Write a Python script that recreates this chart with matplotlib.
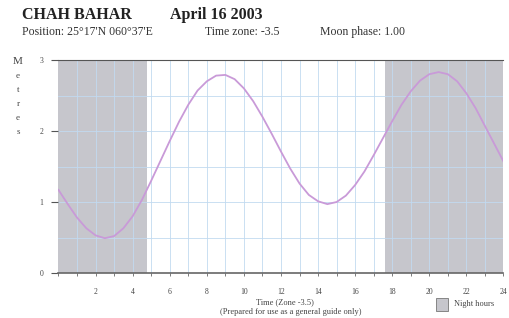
import numpy as np
import matplotlib.pyplot as plt

# Tide data (half-hourly)
hours = [i * 0.5 for i in range(49)]
height = [1.17, 0.97, 0.78, 0.63, 0.53, 0.49, 0.52, 0.63, 0.80, 1.03,
          1.30, 1.58, 1.86, 2.13, 2.37, 2.57, 2.70, 2.78, 2.79, 2.73,
          2.60, 2.42, 2.20, 1.96, 1.71, 1.47, 1.26, 1.10, 1.01, 0.97,
          1.00, 1.09, 1.24, 1.43, 1.66, 1.90, 2.14, 2.37, 2.56, 2.71,
          2.80, 2.83, 2.80, 2.70, 2.53, 2.32, 2.07, 1.82, 1.57]
night = [(0, 4.8), (17.6, 24)]
xtick_labels = ['2', '4', '6', '8', '10', '12', '14', '16', '18', '20', '22', '24']
ytick_labels = ['0', '1', '2', '3']

plt.rcParams['font.family'] = ['Liberation Serif', 'DejaVu Serif']

fig = plt.figure(figsize=(5.10, 3.18), dpi=100)
ax = fig.add_axes([58.5 / 510, 45 / 318, 445 / 510, 213 / 318])

# Night shading
for a, b in night:
    ax.axvspan(a, b, color='#c6c6cc', zorder=0, lw=0)

# Grid
for h in range(1, 24):
    ax.axvline(h, color='#c2daf0', lw=0.6, zorder=1)
for v in np.arange(0.5, 3.0, 0.5):
    ax.axhline(v, color='#c2daf0', lw=0.6, zorder=1)

# Tide curve
ax.plot(hours, height, color='#c99ad8', lw=1.3, zorder=3)

ax.set_xlim(0, 24)
ax.set_ylim(0, 3)
ax.set_xticks(range(2, 25, 2))
ax.set_xticklabels(xtick_labels)
ax.set_xticks(range(0, 25), minor=True)
ax.set_yticks(range(4))
ax.set_yticklabels(ytick_labels)
ax.tick_params(axis='x', which='both', direction='out', length=2.5, width=0.6,
               color='#666666', labelsize=5.5, pad=8, labelcolor='#444444')
ax.tick_params(axis='y', direction='out', length=5, width=0.8,
               color='#555555', labelsize=5.5, pad=6, labelcolor='#444444')

for s in ['left', 'right']:
    ax.spines[s].set_visible(False)
ax.spines['top'].set_color('#555555')
ax.spines['top'].set_linewidth(0.8)
ax.spines['bottom'].set_color('#666666')
ax.spines['bottom'].set_linewidth(1.2)

# Titles
fig.text(22 / 510, 1 - 15 / 318, 'CHAH BAHAR', fontsize=11.5, fontweight='bold',
         va='center', ha='left', color='#222222')
fig.text(170 / 510, 1 - 15 / 318, 'April 16 2003', fontsize=11.5, fontweight='bold',
         va='center', ha='left', color='#222222')
fig.text(22 / 510, 1 - 32 / 318, "Position: 25\u00b017'N 060\u00b037'E", fontsize=8.5,
         va='center', ha='left', color='#333333')
fig.text(205 / 510, 1 - 32 / 318, 'Time zone: -3.5', fontsize=8.5,
         va='center', ha='left', color='#333333')
fig.text(320 / 510, 1 - 32 / 318, 'Moon phase: 1.00', fontsize=8.5,
         va='center', ha='left', color='#333333')

# Vertical stacked y label
for i, ch in enumerate('Metres'):
    fig.text(18 / 510, 1 - (62 + i * 14) / 318, ch,
             fontsize=8 if i == 0 else 6.5, ha='center', va='center', color='#444444')

# Bottom labels
fig.text(285 / 510, 1 - 302 / 318, 'Time (Zone -3.5)', fontsize=6,
         ha='center', va='center', color='#444444')
fig.text(291 / 510, 1 - 312 / 318, '(Prepared for use as a general guide only)', fontsize=6,
         ha='center', va='center', color='#444444')

# Legend box
fig.patches.append(plt.Rectangle((436 / 510, 1 - 311 / 318), 12 / 510, 13 / 318,
                                 transform=fig.transFigure, facecolor='#c6c6cc',
                                 edgecolor='#777777', lw=0.6))
fig.text(454 / 510, 1 - 304 / 318, 'Night hours', fontsize=6,
         ha='left', va='center', color='#444444')

fig.savefig('out.png', dpi=100, facecolor='white')
